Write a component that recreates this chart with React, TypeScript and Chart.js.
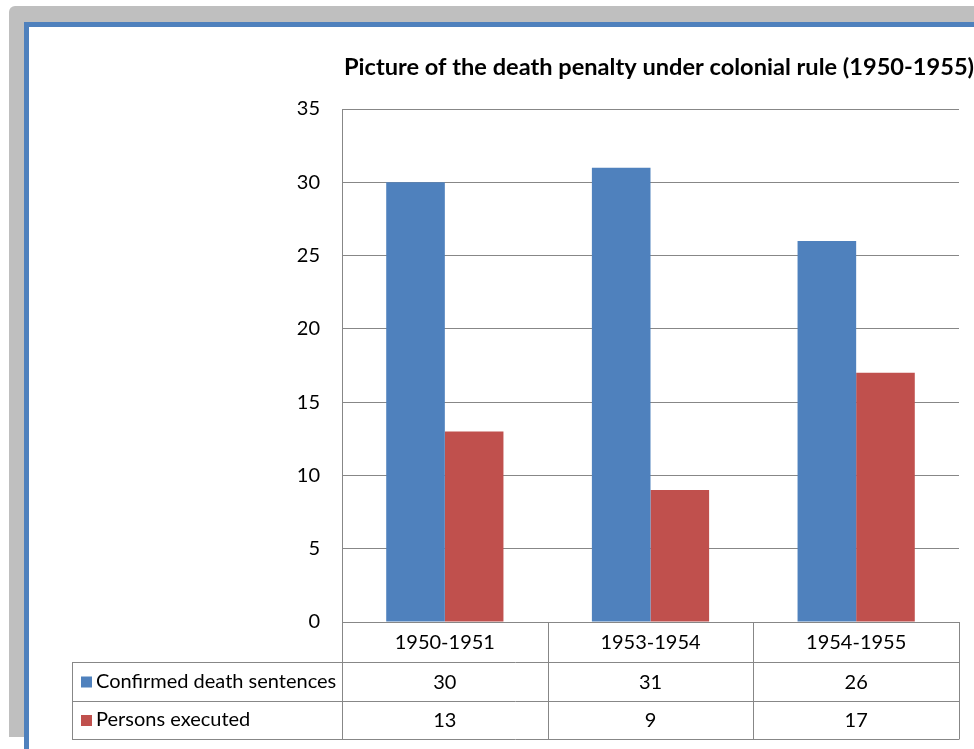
import React, { useEffect, useRef } from "react";
import { Chart, registerables } from "chart.js";

Chart.register(...registerables);

const categories = ["1950-1951", "1953-1954", "1954-1955"];
const confirmedSentences = [30, 31, 26];
const personsExecuted = [13, 9, 17];
const seriesNames = ["Confirmed death sentences", "Persons executed"];
const yMin = 0;
const yMax = 35;
const yStep = 5;
const titleText = "Picture of the death penalty under colonial rule (1950-1955)";

const BLUE = "#4f81bd";
const RED = "#c0504d";
const GRID = "#878787";
const FRAME_GREY = "#bfbfbf";
const FONT = "Lato, 'Open Sans', sans-serif";

const W = 974;
const H = 749;

const framePlugin = {
  id: "frame",
  beforeDraw(chart: any) {
    const ctx = chart.ctx;
    ctx.save();
    ctx.fillStyle = "#ffffff";
    ctx.fillRect(0, 0, W, H);
    // grey shadow frame with rounded corner
    ctx.fillStyle = FRAME_GREY;
    ctx.beginPath();
    ctx.moveTo(9, 737);
    ctx.lineTo(9, 12);
    ctx.arcTo(9, 6, 15, 6, 6);
    ctx.lineTo(W + 10, 6);
    ctx.lineTo(W + 10, 737);
    ctx.closePath();
    ctx.fill();
    // blue border
    ctx.fillStyle = BLUE;
    ctx.fillRect(24, 22, W, H);
    ctx.fillStyle = "#ffffff";
    ctx.fillRect(29, 27, W, H);
    // title
    ctx.fillStyle = "#000000";
    ctx.font = `bold 23.6px ${FONT}`;
    ctx.textAlign = "left";
    ctx.textBaseline = "alphabetic";
    ctx.fillText(titleText, 344, 75);
    ctx.restore();
  },
};

const tablePlugin = {
  id: "dataTable",
  afterDraw(chart: any) {
    const ctx = chart.ctx;
    const area = chart.chartArea;
    const xs = chart.scales.x;
    const half = (xs.getPixelForValue(1) - xs.getPixelForValue(0)) / 2;
    const right = area.right;
    const legendLeft = 72;
    const rowTops = [area.bottom, 662, 701, 739];
    const p = (v: number) => Math.round(v) + 0.5;

    ctx.save();
    ctx.strokeStyle = GRID;
    ctx.lineWidth = 1;
    ctx.beginPath();
    for (let r = 1; r < rowTops.length; r++) {
      ctx.moveTo(legendLeft, p(rowTops[r]));
      ctx.lineTo(right, p(rowTops[r]));
    }
    const bounds: number[] = [];
    for (let i = 0; i < categories.length; i++) {
      bounds.push(xs.getPixelForValue(i) - half);
    }
    bounds.push(xs.getPixelForValue(categories.length - 1) + half);
    bounds.forEach((bx) => {
      ctx.moveTo(p(bx), rowTops[0]);
      ctx.lineTo(p(bx), p(rowTops[3]));
    });
    ctx.moveTo(p(legendLeft), p(rowTops[1]));
    ctx.lineTo(p(legendLeft), p(rowTops[3]));
    ctx.stroke();

    ctx.fillStyle = "#000000";
    ctx.font = `20px ${FONT}`;
    ctx.textBaseline = "middle";
    ctx.textAlign = "center";
    const rowMid = (r: number) => (rowTops[r] + rowTops[r + 1]) / 2 + 1;
    categories.forEach((c, i) => {
      const cx = xs.getPixelForValue(i);
      ctx.fillText(c, cx, rowMid(0));
      ctx.fillText(String(confirmedSentences[i]), cx, rowMid(1));
      ctx.fillText(String(personsExecuted[i]), cx, rowMid(2));
    });

    const colors = [BLUE, RED];
    seriesNames.forEach((name, k) => {
      const my = rowMid(k + 1);
      ctx.fillStyle = colors[k];
      ctx.fillRect(81, my - 6, 11, 11);
      ctx.fillStyle = "#000000";
      ctx.textAlign = "left";
      ctx.fillText(name, 96, my - 1);
    });
    ctx.restore();
  },
};

export default function App() {
  const ref = useRef<HTMLCanvasElement | null>(null);

  useEffect(() => {
    if (!ref.current) return;
    const chart = new Chart(ref.current, {
      type: "bar",
      data: {
        labels: categories,
        datasets: [
          {
            label: seriesNames[0],
            data: confirmedSentences,
            backgroundColor: BLUE,
            categoryPercentage: 0.57,
            barPercentage: 1.0,
          },
          {
            label: seriesNames[1],
            data: personsExecuted,
            backgroundColor: RED,
            categoryPercentage: 0.57,
            barPercentage: 1.0,
          },
        ],
      },
      options: {
        animation: false,
        responsive: false,
        devicePixelRatio: 1,
        layout: {
          padding: { left: 292, top: 109, right: 15, bottom: 127 },
        },
        plugins: {
          legend: { display: false },
          title: { display: false },
          tooltip: { enabled: false },
        },
        scales: {
          x: {
            display: false,
          },
          y: {
            min: yMin,
            max: yMax,
            ticks: {
              stepSize: yStep,
              color: "#000000",
              font: { family: FONT, size: 20 },
              padding: 22,
            },
            grid: { color: GRID, drawTicks: false },
            border: { display: true, color: GRID },
            afterFit(scale: any) {
              scale.width = 50;
            },
          },
        },
      },
      plugins: [framePlugin, tablePlugin],
    });
    return () => chart.destroy();
  }, []);

  return (
    <div style={{ position: "fixed", left: 0, top: 0, width: W, height: H, overflow: "hidden" }}>
      <canvas ref={ref} width={W} height={H} style={{ width: W, height: H, display: "block" }} />
    </div>
  );
}
